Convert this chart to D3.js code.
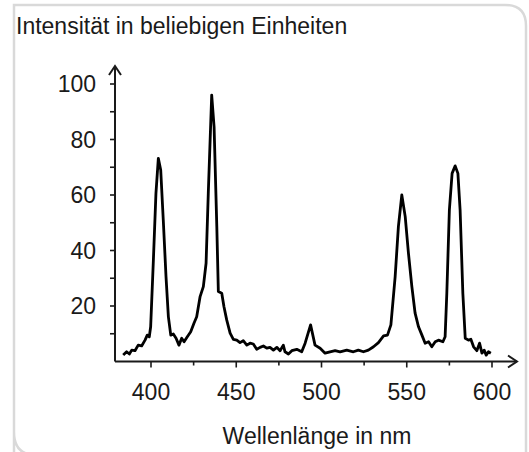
<!DOCTYPE html>
<html>
<head>
<meta charset="utf-8">
<script src="https://cdn.jsdelivr.net/npm/d3@7"></script>
<style>
  html, body { margin: 0; padding: 0; background: #fff; }
  svg { display: block; font-family: "Liberation Sans", Arial, sans-serif; }
</style>
</head>
<body>
<div id="chart"></div>
<script>
// Spectrum: wavelength (nm) and intensity (arb. units)
const wavelengths = [
  383.7, 385.7, 387.3, 388.7, 390.6, 392.5, 394.5, 396.5, 397.8, 399.0,
  399.8, 401.4, 402.9, 404.3, 405.7, 407.2, 408.8, 410.2, 411.6, 413.1,
  414.7, 416.4, 418.0, 419.4, 421.3, 423.3, 425.2, 426.8, 428.8, 430.7,
  432.3, 433.6, 435.6, 437.0, 438.6, 439.5, 441.5, 442.8, 444.4, 446.4,
  448.3, 450.3, 452.2, 454.1, 456.2, 458.1, 460.0, 462.0, 464.0, 465.9,
  467.9, 469.8, 471.8, 473.8, 475.7, 477.6, 478.6, 480.6, 482.6, 485.5,
  488.4, 490.4, 493.6, 496.2, 499.2, 502.1, 505.0, 508.0, 510.9, 514.8,
  518.7, 521.6, 524.6, 527.5, 530.5, 533.4, 536.4, 538.7, 540.7, 543.2,
  545.1, 547.1, 549.1, 551.0, 553.0, 554.9, 556.9, 558.9, 560.8, 562.8,
  564.7, 566.7, 568.6, 571.2, 572.5, 573.5, 575.0, 576.6, 578.4, 580.0,
  581.3, 582.9, 584.3, 586.2, 587.6, 589.2, 591.1, 592.7, 594.1, 595.4,
  596.6, 597.9, 599.3
];
const intensities = [
  2.3, 3.5, 2.7, 4.1, 3.9, 5.9, 5.6, 7.7, 9.5, 8.9,
  12.5, 36.6, 60.6, 73.2, 69.0, 51.0, 30.6, 16.1, 9.5, 9.9,
  8.4, 5.9, 8.4, 7.1, 8.9, 10.7, 13.8, 16.1, 23.4, 27.0,
  35.4, 60.6, 96.0, 84.6, 48.6, 25.2, 24.6, 19.7, 15.0, 10.2,
  8.0, 7.7, 6.8, 7.5, 5.9, 6.6, 6.3, 4.4, 5.1, 5.6,
  4.8, 5.1, 4.1, 5.1, 3.9, 5.9, 3.5, 2.7, 3.9, 4.4,
  3.5, 6.6, 13.2, 5.9, 4.8, 3.0, 3.5, 3.9, 3.5, 4.1,
  3.5, 4.1, 3.5, 4.1, 5.3, 6.8, 9.2, 9.5, 13.2, 30.6,
  48.6, 60.0, 52.2, 39.0, 27.0, 17.4, 12.5, 9.5, 6.6, 7.1,
  5.3, 7.1, 7.7, 7.1, 8.9, 24.6, 54.6, 67.8, 70.5, 67.8,
  54.6, 24.6, 8.4, 7.7, 8.0, 5.3, 3.9, 6.6, 3.0, 4.1,
  2.3, 3.5, 3.0
];
const xTicks = [400, 450, 500, 550, 600];
const xMinorTicks = [425, 475, 525, 575];
const yTicks = [20, 40, 60, 80, 100];
const yMinorTicks = [10, 30, 50, 70, 90];

const yLabel = 'Intensität in beliebigen Einheiten';
const xLabel = 'Wellenlänge in nm';

const width = 529, height = 452;
const ink = '#1a1a1a';
const fontSize = 23;

const svg = d3.select('#chart')
    .append('svg')
    .attr('width', width)
    .attr('height', height);

// Card frame (light grey, rounded top-right and bottom-left)
svg.append('path')
    .attr('d', 'M14,470 L14,432 Q14,455 36,455 M14,432 L14,5 L505,5 Q526,5 526,26 L526,470')
    .attr('fill', 'none')
    .attr('stroke', '#d9d9d9')
    .attr('stroke-width', 2.5);

const x = d3.scaleLinear().domain([400, 600]).range([151, 492]);
const y = d3.scaleLinear().domain([0, 100]).range([361.5, 84]);

const axisLeftX = 115;
const axisEndX = 517;
const axisTopY = 66;
const baseY = y(0);

const axes = svg.append('g').attr('stroke', ink).attr('fill', 'none');

// Axis lines
axes.append('line')
    .attr('x1', axisLeftX).attr('x2', axisEndX)
    .attr('y1', baseY).attr('y2', baseY)
    .attr('stroke-width', 2);
axes.append('line')
    .attr('x1', axisLeftX).attr('x2', axisLeftX)
    .attr('y1', baseY).attr('y2', axisTopY)
    .attr('stroke-width', 2);

// Open arrow heads
axes.append('path')
    .attr('d', `M${axisLeftX - 6},${axisTopY + 9} L${axisLeftX},${axisTopY} L${axisLeftX + 6},${axisTopY + 9}`)
    .attr('stroke-width', 2);
axes.append('path')
    .attr('d', `M${axisEndX - 9},${baseY - 6} L${axisEndX},${baseY} L${axisEndX - 9},${baseY + 6}`)
    .attr('stroke-width', 2);

// Ticks
axes.selectAll('.xtick')
    .data(xTicks.concat(xMinorTicks))
    .enter()
    .append('line')
    .attr('class', 'xtick')
    .attr('x1', d => x(d)).attr('x2', d => x(d))
    .attr('y1', baseY).attr('y2', d => baseY + (xTicks.includes(d) ? 6 : 4))
    .attr('stroke-width', 1.6);

axes.selectAll('.ytick')
    .data(yTicks.concat(yMinorTicks))
    .enter()
    .append('line')
    .attr('class', 'ytick')
    .attr('x1', axisLeftX - 5).attr('x2', axisLeftX)
    .attr('y1', d => y(d)).attr('y2', d => y(d))
    .attr('stroke-width', 1.6);

// Tick labels
svg.selectAll('.xlabel')
    .data(xTicks)
    .enter()
    .append('text')
    .attr('x', d => x(d))
    .attr('y', 400)
    .attr('text-anchor', 'middle')
    .attr('font-size', fontSize)
    .attr('fill', ink)
    .text(d => d);

svg.selectAll('.ylabel')
    .data(yTicks)
    .enter()
    .append('text')
    .attr('x', 96)
    .attr('y', d => y(d))
    .attr('dy', '0.36em')
    .attr('text-anchor', 'end')
    .attr('font-size', fontSize)
    .attr('fill', ink)
    .text(d => d);

// Axis titles
svg.append('text')
    .attr('x', 16)
    .attr('y', 34)
    .attr('font-size', fontSize)
    .attr('fill', ink)
    .text(yLabel);

svg.append('text')
    .attr('x', 317)
    .attr('y', 444)
    .attr('text-anchor', 'middle')
    .attr('font-size', fontSize)
    .attr('fill', ink)
    .text(xLabel);

// Spectrum line
const data = wavelengths.map((w, i) => ({ w, v: intensities[i] }));
svg.append('path')
    .datum(data)
    .attr('fill', 'none')
    .attr('stroke', '#000')
    .attr('stroke-width', 2.8)
    .attr('stroke-linejoin', 'round')
    .attr('d', d3.line().x(d => x(d.w)).y(d => y(d.v)));
</script>
</body>
</html>
